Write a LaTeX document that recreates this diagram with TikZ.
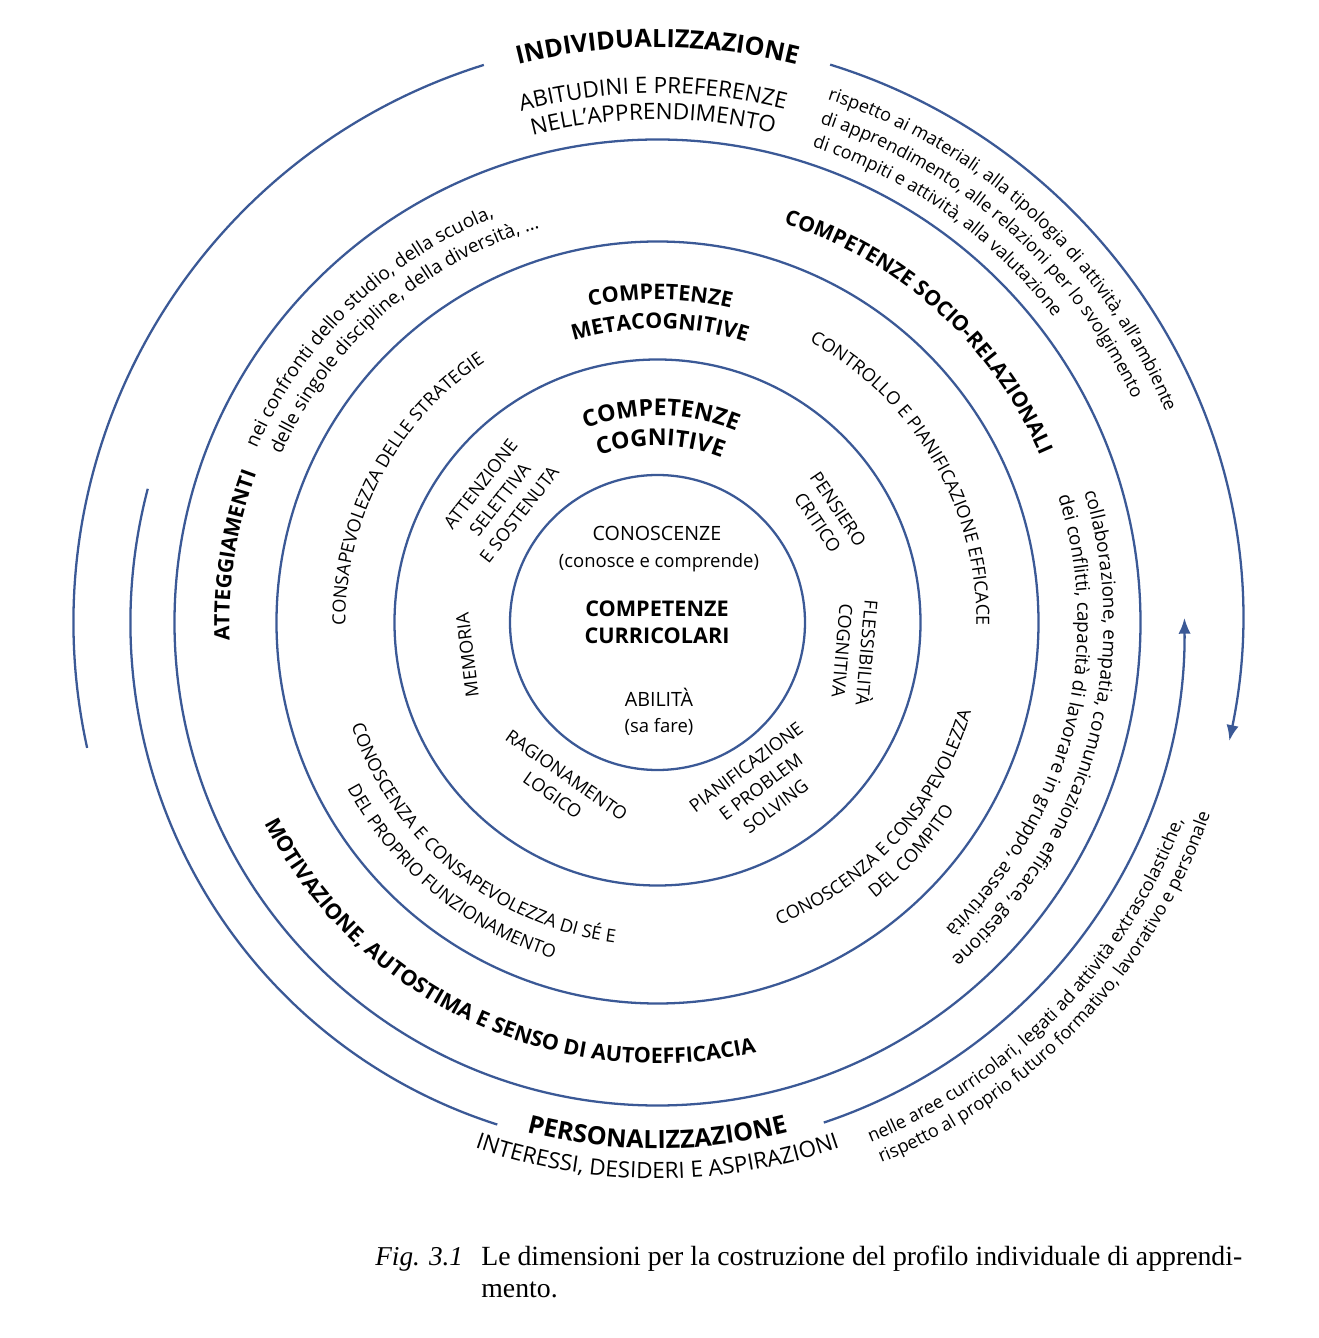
\documentclass[tikz,border=0pt]{standalone}
\usepackage{fontspec}
\setmainfont{Open Sans}
\newfontfamily\capfont{Liberation Serif}
\usetikzlibrary{arrows.meta,decorations.text}

\definecolor{ringblue}{RGB}{59,89,150}

\newcommand{\fhead}{\fontsize{14.3}{16}\selectfont\bfseries}
\newcommand{\fring}{\fontsize{12}{14}\selectfont\bfseries}
\newcommand{\fcog}{\fontsize{13.2}{15}\selectfont\bfseries}
\newcommand{\fsemi}{\fontsize{12.2}{14}\selectfont\bfseries}
\newcommand{\fcaps}{\fontsize{12.8}{14}\selectfont}
\newcommand{\fitem}{\fontsize{10.3}{14}\selectfont}
\newcommand{\fnote}{\fontsize{10.3}{12}\selectfont}
\newcommand{\fnoteb}{\fontsize{10.8}{12.5}\selectfont}

% text on a circle round the centre: radius, angle, font, text
\newcommand{\cwtext}[4]{%
  \path[decorate,decoration={text along path,text align=center,text={|#3|#4}}]
    (#2+85:#1) arc[start angle=#2+85,end angle=#2-85,radius=#1];}
\newcommand{\ccwtext}[4]{%
  \path[decorate,decoration={text along path,text align=center,text={|#3|#4}}]
    (#2-85:#1) arc[start angle=#2-85,end angle=#2+85,radius=#1];}
\newcommand{\cwleft}[4]{%
  \path[decorate,decoration={text along path,text align=left,text={|#3|#4}}]
    (#2:#1) arc[start angle=#2,end angle=#2-120,radius=#1];}
\newcommand{\ccwleft}[4]{%
  \path[decorate,decoration={text along path,text align=left,text={|#3|#4}}]
    (#2:#1) arc[start angle=#2,end angle=#2+120,radius=#1];}

\begin{document}
\begin{tikzpicture}[x=0.02cm,y=0.02cm,
  ring/.style={draw=ringblue,line width=1.3pt},
  flow/.style={ring,-{Latex[length=9pt,width=7pt]}},
  item/.style={font=\fitem,align=center,inner sep=1pt},
  core/.style={align=center,inner sep=1pt,font=\fontsize{11.2}{13}\selectfont}]
\useasboundingbox (-657.5,-715.5) rectangle (660.5,622.5);

% the four closed rings
\draw[ring] (0,0) circle[radius=147.5];
\draw[ring] (0,0) circle[radius=263];
\draw[ring] (0,0) circle[radius=381];
\draw[ring] (0,0) circle[radius=483];

% open arcs of individualizzazione and personalizzazione
\draw[ring] (107.3:584) arc[start angle=107.3,end angle=192.4,radius=584];
\draw[flow] (72.8:584) arc[start angle=72.8,end angle=-11.7,radius=584];
\draw[ring] (165.3:527) arc[start angle=165.3,end angle=252.3,radius=527];
\draw[flow] (288.4:527) arc[start angle=288.4,end angle=360.5,radius=527];

% outer band
\cwtext{575}{90}{\fhead}{INDIVIDUALIZZAZIONE}
\cwtext{529}{90.5}{\fcaps}{ABITUDINI E PREFERENZE}
\cwtext{503}{90.5}{\fcaps}{NELL’APPRENDIMENTO}
\cwleft{550}{72}{\fnote}{rispetto ai materiali, alla tipologia di attività, all’ambiente}
\cwleft{525}{72}{\fnote}{di apprendimento, alle relazioni per lo svolgimento}
\cwleft{500}{72}{\fnote}{di compiti e attività, alla valutazione}
\ccwtext{526}{270}{\fhead}{PERSONALIZZAZIONE}
\ccwtext{556}{270}{\fcaps}{INTERESSI, DESIDERI E ASPIRAZIONI}
\ccwleft{562}{292.3}{\fnote}{nelle aree curricolari, legati ad attività extrascolastiche,}
\ccwleft{585}{292.5}{\fnote}{rispetto al proprio futuro formativo, lavorativo e personale}

% socio-relational band
\cwtext{418}{48}{\fring}{COMPETENZE SOCIO-RELAZIONALI}
\cwtext{428}{171}{\fring}{ATTEGGIAMENTI}
\cwleft{437}{156.5}{\fnoteb}{nei confronti dello studio, della scuola,}
\cwleft{412}{156}{\fnoteb}{delle singole discipline, della diversità, …}
\cwleft{446}{17}{\fnoteb}{collaborazione, empatia, comunicazione efficace, gestione}
\cwleft{420}{17.5}{\fnoteb}{dei conflitti, capacità di lavorare in gruppo, assertività}
\ccwtext{441}{245}{\fsemi}{MOTIVAZIONE, AUTOSTIMA E SENSO DI AUTOEFFICACIA}

% metacognitive band
\cwtext{323}{89.5}{\fsemi}{COMPETENZE}
\cwtext{294}{89.5}{\fsemi}{METACOGNITIVE}
\cwtext{312}{152}{\fitem}{CONSAPEVOLEZZA DELLE STRATEGIE}
\cwtext{319}{30.5}{\fitem}{CONTROLLO E PIANIFICAZIONE EFFICACE}
\ccwtext{323}{230.5}{\fitem}{CONOSCENZA E CONSAPEVOLEZZA DI SÉ E}
\ccwtext{352}{230.5}{\fitem}{DEL PROPRIO FUNZIONAMENTO}
\ccwtext{326}{318}{\fitem}{CONOSCENZA E CONSAPEVOLEZZA}
\ccwtext{351}{318}{\fitem}{DEL COMPITO}

% cognitive band
\cwtext{207}{89}{\fcog}{COMPETENZE}
\cwtext{177}{89}{\fcog}{COGNITIVE}
\node[item,rotate=52] (attention) at (142:200) {ATTENZIONE\\SELETTIVA\\E SOSTENUTA};
\node[item,rotate=-56] (critical) at (32:201) {PENSIERO\\CRITICO};
\node[item,rotate=-95] (flexible) at (-8.4:201) {FLESSIBILITÀ\\COGNITIVA};
\node[item,rotate=37] (planning) at (-57.8:194) {PIANIFICAZIONE\\E PROBLEM\\SOLVING};
\node[item,rotate=-35] (reasoning) at (239:190) {RAGIONAMENTO\\LOGICO};
\node[item,rotate=97] (memory) at (189.7:193) {MEMORIA};

% core
\node[core] (know) at (-0.5,89.5) {CONOSCENZE};
\node[core,font=\fontsize{10.5}{13}\selectfont] (knowsub) at (1.5,59.5) {(conosce e comprende)};
\node[core,font=\fontsize{12.3}{15.5}\selectfont\bfseries] (curric) at (-0.5,0) {COMPETENZE\\CURRICOLARI};
\node[core] (skill) at (1.5,-74.5) {ABILITÀ};
\node[core,font=\fontsize{10.5}{13}\selectfont] (skillsub) at (1.5,-104.5) {(sa fare)};

% caption
\node[anchor=base west,inner sep=0pt,font=\capfont\itshape\fontsize{15.5}{18}\selectfont] (fig) at (-282.5,-643) {Fig. 3.1};
\node[anchor=base west,inner sep=0pt,font=\capfont\fontsize{15.8}{18}\selectfont] (cap1) at (-176.5,-643) {Le dimensioni per la costruzione del profilo individuale di apprendi-};
\node[anchor=base west,inner sep=0pt,font=\capfont\fontsize{15.8}{18}\selectfont] (cap2) at (-176.5,-675) {mento.};
\end{tikzpicture}
\end{document}
